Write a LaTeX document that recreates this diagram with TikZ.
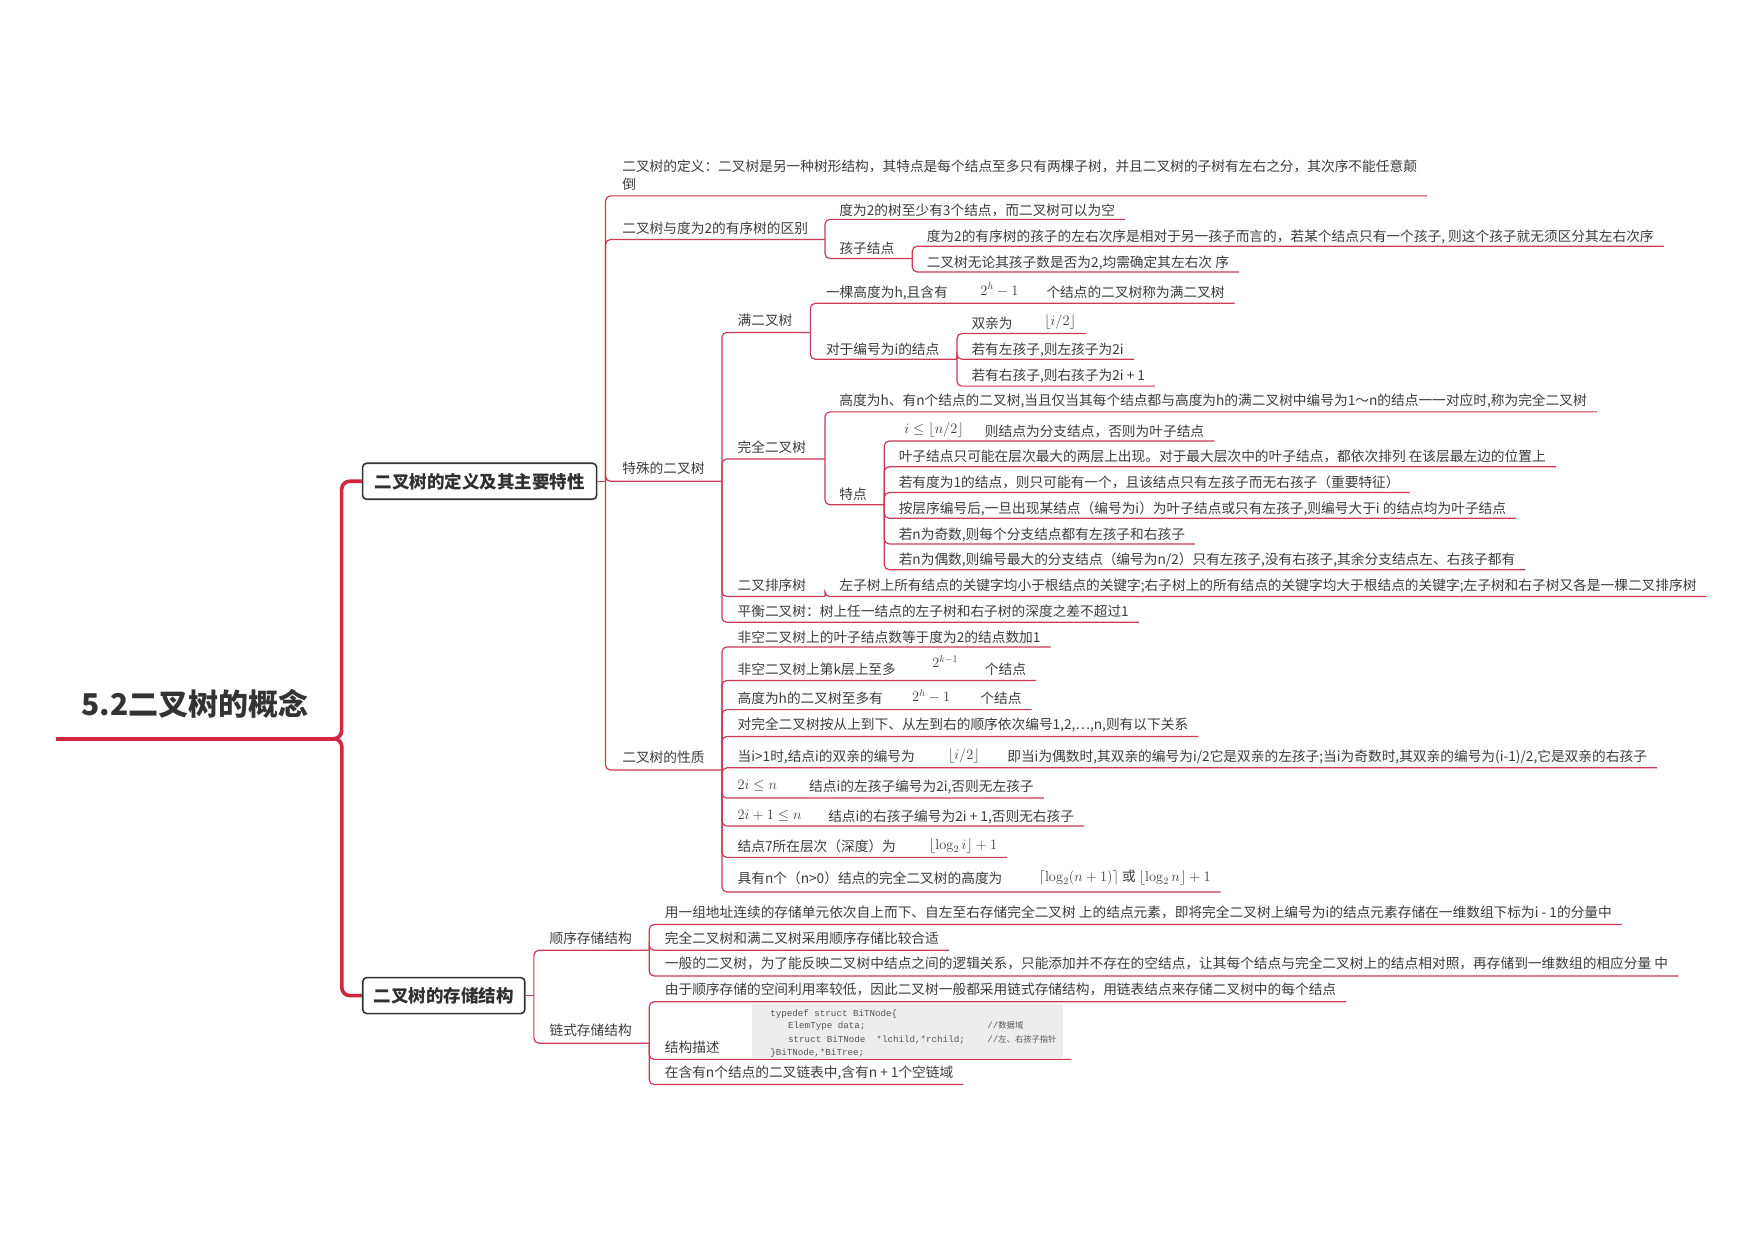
\documentclass[tikz,border=0pt]{standalone}
\usepackage[no-math]{fontspec}
\setmainfont{Noto Sans CJK SC}
\newfontfamily\codefont{Liberation Mono}
\usetikzlibrary{calc}
\definecolor{textc}{HTML}{3C3C3C}
\definecolor{brc}{HTML}{CC3A55}
\definecolor{trunkc}{HTML}{D0263F}
\definecolor{boxc}{HTML}{333333}
\definecolor{codebg}{HTML}{EDEDED}
\definecolor{codec}{HTML}{555555}
\newcommand\fs{\fontsize{13.7}{16}\selectfont}
% leaf: name, parent coord, xtext, ytext, yline, text
\newcommand\mmleaf[6]{%
  \node[txt] (#1) at (#3,#4+4.6) {#6};
  \coordinate (#1-y) at (0,#5);
  \coordinate (#1-e) at ($(#1.east |- #1-y)+(9,0)$);
  \draw[br] (#2) |- (#1-e);
}
% parent: name, parent coord, xtext, ytext, yline, xend, text
\newcommand\mmpar[7]{%
  \node[txt] (#1) at (#3,#4+4.6) {#7};
  \coordinate (#1-e) at (#6,#5);
  \draw[br] (#2) |- (#1-e);
}
\begin{document}
\begin{tikzpicture}[x=1.1192pt,y=-1.1192pt,
  txt/.style={font=\fs, text=textc, inner sep=0pt, outer sep=0pt, anchor=base west},
  br/.style={draw=brc, line width=1.2pt, rounded corners=5pt},
  trunk/.style={draw=trunkc, line width=3.6pt, rounded corners=8pt},
  titlest/.style={font=\fontsize{30}{34}\selectfont\bfseries, text=textc!85!black, inner sep=0pt},
  mbox/.style={draw=boxc, line width=1.6pt, rounded corners=4pt, fill=white,
    font=\fontsize{17.5}{20}\selectfont\bfseries, text=textc!80!black, minimum height=36pt, inner sep=0pt},
  code/.style={font=\codefont\fontsize{9.2}{10}\selectfont, text=codec, inner sep=0pt, anchor=base west},
  cmt/.style={font=\fontsize{8.3}{10}\selectfont, text=codec, inner sep=0pt, anchor=base west}]
\useasboundingbox[fill=white] (0,0) rectangle (1568,1108);

% root
\node[titlest] (root) at (174,629) {5.2二叉树的概念};
\coordinate (root-s) at (50,660);
\coordinate (root-e) at (298,660);
\draw[trunkc, line width=4.2pt] (root-s) -- (root-e);

\node[mbox, minimum width=234pt] (b1) at (428.5,430) {二叉树的定义及其主要特性};
\node[mbox, minimum width=162pt] (b2) at (396.5,889.5) {二叉树的存储结构};
\draw[trunk] (root-e) -| ($(b1.west)+(-18,0)$) -- (b1.west);
\draw[trunk] (root-e) -| ($(b2.west)+(-18,0)$) -- (b2.west);

% ---- box 1 children
\coordinate (A) at (541,430);
\draw[br] (b1.east) -- (A);

\mmleaf{a1}{A}{556}{149}{175}{二叉树的定义：二叉树是另一种树形结构，其特点是每个结点至多只有两棵子树，并且二叉树的子树有左右之分，其次序不能任意颠}
\node[txt] (a1b) at (556,165+4.6) {倒};

\mmpar{a2}{A}{556}{204}{214}{737}{二叉树与度为2的有序树的区别}
\mmleaf{a2a}{a2-e}{750}{188}{196}{度为2的树至少有3个结点，而二叉树可以为空}
\mmpar{a2b}{a2-e}{750}{222}{231}{815}{孩子结点}
\mmleaf{kz1}{a2b-e}{828}{211}{220}{度为2的有序树的孩子的左右次序是相对于另一孩子而言的，若某个结点只有一个孩子, 则这个孩子就无须区分其左右次序}
\mmleaf{kz2}{a2b-e}{828}{234}{243}{二叉树无论其孩子数是否为2,均需确定其左右次 序}

\mmpar{a3}{A}{556}{418}{430}{645}{特殊的二叉树}
% full binary tree
\mmpar{c1}{a3-e}{659}{286}{297}{724}{满二叉树}
\node[txt] (d1a) at (738,261+4.6) {一棵高度为h,且含有};
\node[txt] (d1b) at (876,259+4.6) {$2^h-1$};
\mmleaf{d1}{c1-e}{935}{261}{271}{个结点的二叉树称为满二叉树}
\mmpar{d2}{c1-e}{738}{312}{321}{855}{对于编号为i的结点}
\node[txt] (e1a) at (868,289+4.6) {双亲为};
\mmleaf{e1}{d2-e}{933}{286}{298}{$\lfloor i/2\rfloor$}
\mmleaf{e2}{d2-e}{868}{312}{321}{若有左孩子,则左孩子为2i}
\mmleaf{e3}{d2-e}{868}{335}{345}{若有右孩子,则右孩子为2i + 1}
% complete binary tree
\mmpar{c2}{a3-e}{659}{400}{410}{737}{完全二叉树}
\mmleaf{f1}{c2-e}{750}{358}{368}{高度为h、有n个结点的二叉树,当且仅当其每个结点都与高度为h的满二叉树中编号为1～n的结点一一对应时,称为完全二叉树}
\mmpar{f2}{c2-e}{750}{442}{451}{790}{特点}
\node[txt] (g1a) at (808,383+4.6) {$i\le\lfloor n/2\rfloor$};
\mmleaf{g1}{f2-e}{880}{385}{394}{则结点为分支结点，否则为叶子结点}
\mmleaf{g2}{f2-e}{803}{408}{417}{叶子结点只可能在层次最大的两层上出现。对于最大层次中的叶子结点，都依次排列 在该层最左边的位置上}
\mmleaf{g3}{f2-e}{803}{431}{440}{若有度为1的结点，则只可能有一个，且该结点只有左孩子而无右孩子（重要特征）}
\mmleaf{g4}{f2-e}{803}{454}{463}{按层序编号后,一旦出现某结点（编号为i）为叶子结点或只有左孩子,则编号大于i 的结点均为叶子结点}
\mmleaf{g5}{f2-e}{803}{477}{486}{若n为奇数,则每个分支结点都有左孩子和右孩子}
\mmleaf{g6}{f2-e}{803}{500}{509}{若n为偶数,则编号最大的分支结点（编号为n/2）只有左孩子,没有右孩子,其余分支结点左、右孩子都有}
% sort tree, balanced tree
\mmpar{c3}{a3-e}{659}{523}{533}{737}{二叉排序树}
\mmleaf{c3a}{c3-e}{750}{523}{533}{左子树上所有结点的关键字均小于根结点的关键字;右子树上的所有结点的关键字均大于根结点的关键字;左子树和右子树又各是一棵二叉排序树}
\mmleaf{c4}{a3-e}{659}{546}{556}{平衡二叉树：树上任一结点的左子树和右子树的深度之差不超过1}

% properties
\mmpar{a4}{A}{556}{677}{688}{645}{二叉树的性质}
\mmleaf{h1}{a4-e}{659}{569}{578}{非空二叉树上的叶子结点数等于度为2的结点数加1}
\node[txt] (h2a) at (659,598+4.6) {非空二叉树上第k层上至多};
\node[txt] (h2b) at (833,592+4.6) {$2^{k-1}$};
\mmleaf{h2}{a4-e}{880}{598}{608}{个结点}
\node[txt] (h3a) at (659,624+4.6) {高度为h的二叉树至多有};
\node[txt] (h3b) at (815,622+4.6) {$2^h-1$};
\mmleaf{h3}{a4-e}{876}{624}{634}{个结点}
\mmleaf{h4}{a4-e}{659}{647}{658}{对完全二叉树按从上到下、从左到右的顺序依次编号1,2,…,n,则有以下关系}
\node[txt] (h5a) at (659,676+4.6) {当i>1时,结点i的双亲的编号为};
\node[txt] (h5b) at (847,674+4.6) {$\lfloor i/2\rfloor$};
\mmleaf{h5}{a4-e}{900}{676}{686}{即当i为偶数时,其双亲的编号为i/2它是双亲的左孩子;当i为奇数时,其双亲的编号为(i-1)/2,它是双亲的右孩子}
\node[txt] (h6a) at (659,701+4.6) {$2i\le n$};
\mmleaf{h6}{a4-e}{723}{703}{713}{结点i的左孩子编号为2i,否则无左孩子}
\node[txt] (h7a) at (659,728+4.6) {$2i+1\le n$};
\mmleaf{h7}{a4-e}{740}{729}{738}{结点i的右孩子编号为2i + 1,否则无右孩子}
\node[txt] (h8a) at (659,756+4.6) {结点7所在层次（深度）为};
\mmleaf{h8}{a4-e}{830}{754}{766}{$\lfloor\log_2 i\rfloor+1$}
\node[txt] (h9a) at (659,785+4.6) {具有n个（n>0）结点的完全二叉树的高度为};
\mmleaf{h9}{a4-e}{928}{783}{797}{$\lceil\log_2(n+1)\rceil$ 或 $\lfloor\log_2 n\rfloor+1$}

% ---- box 2 children
\coordinate (I) at (477,889.5);
\draw[br] (b2.east) -- (I);
\mmpar{i1}{I}{491}{838}{849}{580}{顺序存储结构}
\mmleaf{j1}{i1-e}{594}{815}{826}{用一组地址连续的存储单元依次自上而下、自左至右存储完全二叉树 上的结点元素，即将完全二叉树上编号为i的结点元素存储在一维数组下标为i - 1的分量中}
\mmleaf{j2}{i1-e}{594}{838}{849}{完全二叉树和满二叉树采用顺序存储比较合适}
\mmleaf{j3}{i1-e}{594}{861}{872}{一般的二叉树，为了能反映二叉树中结点之间的逻辑关系，只能添加并不存在的空结点，让其每个结点与完全二叉树上的结点相对照，再存储到一维数组的相应分量 中}
\mmpar{i2}{I}{491}{921}{932}{580}{链式存储结构}
\mmleaf{k1}{i2-e}{594}{884}{895}{由于顺序存储的空间利用率较低，因此二叉树一般都采用链式存储结构，用链表结点来存储二叉树中的每个结点}
\node[txt] (k2a) at (594,936+4.6) {结构描述};
\node[fill=codebg, draw=none, inner sep=0pt, minimum width=311pt, minimum height=53.7pt, anchor=north west] (k2) at (672,897) {};
\coordinate (k2-y) at (0,946.5);
\coordinate (k2-e) at ($(k2.east |- k2-y)+(7,0)$);
\draw[br] (i2-e) |- (k2-e);
\node[code] (cd1) at (688,905+3) {typedef struct BiTNode\{};
\node[code] (cd2) at (704,916+3) {ElemType data;};
\node[code] (cd3) at (704,928+3) {struct BiTNode\ \ *lchild,*rchild;};
\node[code] (cd4) at (688,940+3) {\}BiTNode,*BiTree;};
\node[cmt] (cm1) at (882,916+3) {{\codefont\fontsize{9.2}{10}\selectfont //}数据域};
\node[cmt] (cm2) at (882,928+3) {{\codefont\fontsize{9.2}{10}\selectfont //}左、右孩子指针};
\mmleaf{k3}{i2-e}{594}{958}{969}{在含有n个结点的二叉链表中,含有n + 1个空链域}
\end{tikzpicture}
\end{document}
